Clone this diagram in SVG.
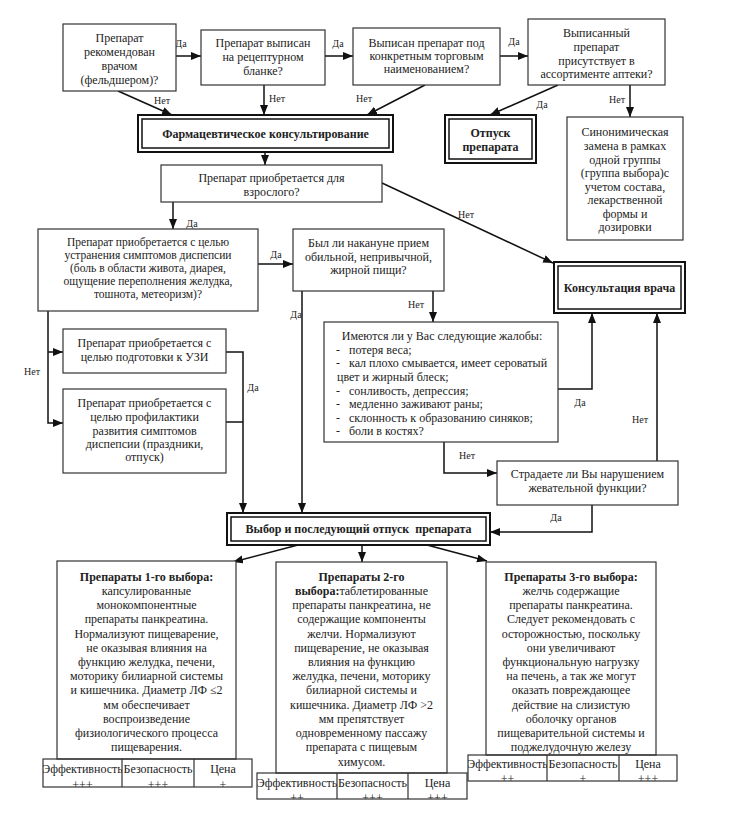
<svg xmlns="http://www.w3.org/2000/svg" width="729" height="815" viewBox="0 0 729 815">
<style>
text{font-family:"Liberation Serif","Times New Roman",serif;font-size:12px;fill:#222;text-anchor:middle}
.l{text-anchor:start}
.b{font-weight:bold}
.s{font-size:11.5px}
.lab{font-size:10px}
.box{fill:#fff;stroke:#333;stroke-width:1.2}
.dbl{fill:#fff;stroke:#111;stroke-width:2}
.dbli{fill:none;stroke:#111;stroke-width:1.5}
.c{fill:none;stroke:#111;stroke-width:1.5}
.cell{fill:none;stroke:#333;stroke-width:1.2}
</style>
<defs>
<marker id="ah" markerUnits="userSpaceOnUse" markerWidth="11" markerHeight="9" refX="10" refY="4" orient="auto">
<path d="M0,0 L10,4 L0,8 z" fill="#111"/>
</marker>
<clipPath id="t1a"><rect x="43" y="759" width="79" height="28"/></clipPath>
<clipPath id="t1b"><rect x="122" y="759" width="72" height="28"/></clipPath>
<clipPath id="t1c"><rect x="194" y="759" width="58" height="28"/></clipPath>
<clipPath id="t2a"><rect x="257" y="773" width="80" height="26"/></clipPath>
<clipPath id="t2b"><rect x="337" y="773" width="71" height="26"/></clipPath>
<clipPath id="t2c"><rect x="408" y="773" width="59" height="26"/></clipPath>
<clipPath id="t3a"><rect x="468" y="755" width="79" height="26"/></clipPath>
<clipPath id="t3b"><rect x="547" y="755" width="72" height="26"/></clipPath>
<clipPath id="t3c"><rect x="619" y="755" width="58" height="26"/></clipPath>
</defs>
<rect width="729" height="815" fill="#fff"/>

<g id="connectors">
<path class="c" d="M176,56 H201" marker-end="url(#ah)"/>
<path class="c" d="M325,56 H353" marker-end="url(#ah)"/>
<path class="c" d="M500,56 H528" marker-end="url(#ah)"/>
<path class="c" d="M118,91 L172,115" marker-end="url(#ah)"/>
<path class="c" d="M264,85 V115" marker-end="url(#ah)"/>
<path class="c" d="M425,85 L367,115" marker-end="url(#ah)"/>
<path class="c" d="M558,85 L490,115" marker-end="url(#ah)"/>
<path class="c" d="M630,85 V117" marker-end="url(#ah)"/>
<path class="c" d="M265,152 V165" marker-end="url(#ah)"/>
<path class="c" d="M382,183 L553,263" marker-end="url(#ah)"/>
<path class="c" d="M173,202 V229" marker-end="url(#ah)"/>
<path class="c" d="M258,264 H293" marker-end="url(#ah)"/>
<path class="c" d="M302,291 V513" marker-end="url(#ah)"/>
<path class="c" d="M433,291 V322" marker-end="url(#ah)"/>
<path class="c" d="M558,389 H592 V313" marker-end="url(#ah)"/>
<path class="c" d="M444,442 V473 H497" marker-end="url(#ah)"/>
<path class="c" d="M657,461 V313" marker-end="url(#ah)"/>
<path class="c" d="M592,505 V532 H490" marker-end="url(#ah)"/>
<path class="c" d="M48,311 V423 H63" marker-end="url(#ah)"/>
<path class="c" d="M48,352 H63" marker-end="url(#ah)"/>
<path class="c" d="M226,352 H243 V513" marker-end="url(#ah)"/>
<path class="c" d="M226,422 H243"/>
<path class="c" d="M298,545 L233,562" marker-end="url(#ah)"/>
<path class="c" d="M362,545 V562" marker-end="url(#ah)"/>
<path class="c" d="M427,545 L487,561" marker-end="url(#ah)"/>
<text class="lab" x="181" y="47">Да</text>
<text class="lab" x="338" y="47">Да</text>
<text class="lab" x="514" y="45">Да</text>
<text class="lab" x="162" y="104">Нет</text>
<text class="lab" x="277" y="102">Нет</text>
<text class="lab" x="364" y="102">Нет</text>
<text class="lab" x="542" y="108">Да</text>
<text class="lab" x="617" y="103">Нет</text>
<text class="lab" x="466" y="218">Нет</text>
<text class="lab" x="192" y="227">Да</text>
<text class="lab" x="276" y="258">Да</text>
<text class="lab" x="296" y="318">Да</text>
<text class="lab" x="416" y="308">Нет</text>
<text class="lab" x="580" y="406">Да</text>
<text class="lab" x="640" y="423">Нет</text>
<text class="lab" x="467" y="459">Нет</text>
<text class="lab" x="556" y="521">Да</text>
<text class="lab" x="32" y="375">Нет</text>
<text class="lab" x="253" y="391">Да</text>
</g>

<g id="n-recommended">
<rect class="box" x="63" y="24" width="113" height="67"/>
<text x="119.5" y="42">Препарат</text>
<text x="119.5" y="56">рекомендован</text>
<text x="119.5" y="70">врачом</text>
<text x="119.5" y="84">(фельдшером)?</text>
</g>
<g id="n-prescribed">
<rect class="box" x="201" y="30" width="124" height="55"/>
<text x="263" y="47">Препарат выписан</text>
<text x="263" y="61">на рецептурном</text>
<text x="263" y="75">бланке?</text>
</g>
<g id="n-trade">
<rect class="box" x="353" y="28" width="147" height="57"/>
<text x="426.5" y="47">Выписан препарат под</text>
<text x="426.5" y="60">конкретным торговым</text>
<text x="426.5" y="73">наименованием?</text>
</g>
<g id="n-assortment">
<rect class="box" x="528" y="19" width="137" height="66"/>
<text x="596.5" y="37">Выписанный</text>
<text x="596.5" y="51">препарат</text>
<text x="596.5" y="65">присутствует в</text>
<text x="596.5" y="78">ассортименте аптеки?</text>
</g>
<g id="n-pharm">
<rect class="dbl" x="138" y="115" width="255" height="37"/>
<rect class="dbli" x="142" y="119" width="247" height="29"/>
<text class="b" x="265.5" y="138">Фармацевтическое консультирование</text>
</g>
<g id="n-dispense">
<rect class="dbl" x="445" y="115" width="91" height="48"/>
<rect class="dbli" x="449" y="119" width="83" height="40"/>
<text class="b" x="490.5" y="137">Отпуск</text>
<text class="b" x="490.5" y="151">препарата</text>
</g>
<g id="n-synonym">
<rect class="box" x="567" y="117" width="116" height="123"/>
<text x="625" y="136">Синонимическая</text>
<text x="625" y="150">замена в рамках</text>
<text x="625" y="164">одной группы</text>
<text x="625" y="177">(группа выбора)с</text>
<text x="625" y="191">учетом состава,</text>
<text x="625" y="204">лекарственной</text>
<text x="625" y="218">формы и</text>
<text x="625" y="231">дозировки</text>
</g>
<g id="n-adult">
<rect class="box" x="161" y="165" width="221" height="37"/>
<text x="271.5" y="182">Препарат приобретается для</text>
<text x="271.5" y="196">взрослого?</text>
</g>
<g id="n-dyspepsia">
<rect class="box" x="38" y="229" width="220" height="82"/>
<text class="s" x="148" y="246">Препарат приобретается с целью</text>
<text class="s" x="148" y="259">устранения симптомов диспепсии</text>
<text class="s" x="148" y="272">(боль в области живота, диарея,</text>
<text class="s" x="148" y="285">ощущение переполнения желудка,</text>
<text class="s" x="148" y="298">тошнота, метеоризм)?</text>
</g>
<g id="n-food">
<rect class="box" x="293" y="229" width="151" height="62"/>
<text x="368.5" y="247">Был ли накануне прием</text>
<text x="368.5" y="261">обильной, непривычной,</text>
<text x="368.5" y="274">жирной пищи?</text>
</g>
<g id="n-complaints">
<rect class="box" x="324" y="322" width="234" height="120"/>
<text x="442" y="340">Имеются ли у Вас следующие жалобы:</text>
<text class="l" x="336" y="354">-</text><text class="l" x="349" y="354">потеря веса;</text>
<text class="l" x="336" y="367">-</text><text class="l" x="349" y="367">кал плохо смывается, имеет сероватый</text>
<text class="l" x="337" y="381">цвет и жирный блеск;</text>
<text class="l" x="336" y="395">-</text><text class="l" x="349" y="395">сонливость, депрессия;</text>
<text class="l" x="336" y="408">-</text><text class="l" x="349" y="408">медленно заживают раны;</text>
<text class="l" x="336" y="422">-</text><text class="l" x="349" y="422">склонность к образованию синяков;</text>
<text class="l" x="336" y="435">-</text><text class="l" x="349" y="435">боли в костях?</text>
</g>
<g id="n-doctor">
<rect class="dbl" x="554" y="262" width="131" height="51"/>
<rect class="dbli" x="558" y="266" width="123" height="43"/>
<text class="b" x="619.5" y="292">Консультация врача</text>
</g>
<g id="n-chewing">
<rect class="box" x="497" y="461" width="181" height="44"/>
<text x="587.5" y="478">Страдаете ли Вы нарушением</text>
<text x="587.5" y="492">жевательной функции?</text>
</g>
<g id="n-uzi">
<rect class="box" x="63" y="329" width="163" height="44"/>
<text x="144.5" y="347">Препарат приобретается с</text>
<text x="144.5" y="361">целью подготовки к УЗИ</text>
</g>
<g id="n-prevention">
<rect class="box" x="63" y="389" width="163" height="84"/>
<text x="144.5" y="407">Препарат приобретается с</text>
<text x="144.5" y="421">целью профилактики</text>
<text x="144.5" y="435">развития симптомов</text>
<text x="144.5" y="448">диспепсии (праздники,</text>
<text x="144.5" y="461">отпуск)</text>
</g>
<g id="n-choice">
<rect class="dbl" x="227" y="513" width="263" height="32"/>
<rect class="dbli" x="231" y="517" width="255" height="24"/>
<text class="b" x="358.5" y="533" xml:space="preserve">Выбор и последующий отпуск  препарата</text>
</g>
<g id="n-first">
<rect class="box" x="57" y="561" width="179" height="198"/>
<text class="b" x="146.5" y="581">Препараты 1-го выбора:</text>
<text x="146.5" y="595">капсулированные</text>
<text x="146.5" y="609">монокомпонентные</text>
<text x="146.5" y="623">препараты панкреатина.</text>
<text x="146.5" y="638">Нормализуют пищеварение,</text>
<text x="146.5" y="652">не оказывая влияния на</text>
<text x="146.5" y="666">функцию желудка, печени,</text>
<text x="146.5" y="680">моторику билиарной системы</text>
<text x="146.5" y="694">и кишечника. Диаметр ЛФ ≤2</text>
<text x="146.5" y="709">мм обеспечивает</text>
<text x="146.5" y="723">воспроизведение</text>
<text x="146.5" y="737">физиологического процесса</text>
<text x="146.5" y="751">пищеварения.</text>
<rect class="cell" x="43" y="759" width="209" height="28"/>
<path class="cell" d="M122,759 V787 M194,759 V787"/>
<text x="82.5" y="773" clip-path="url(#t1a)">Эффективность</text>
<text x="158" y="773" clip-path="url(#t1b)">Безопасность</text>
<text x="223" y="773" clip-path="url(#t1c)">Цена</text>
<text x="82.5" y="789" clip-path="url(#t1a)">+++</text>
<text x="158" y="789" clip-path="url(#t1b)">+++</text>
<text x="223" y="789" clip-path="url(#t1c)">+</text>
</g>
<g id="n-second">
<rect class="box" x="276" y="562" width="171" height="211"/>
<text class="b" x="361.5" y="581">Препараты 2-го</text>
<text x="361.5" y="595"><tspan class="b">выбора:</tspan>таблетированные</text>
<text x="361.5" y="609">препараты панкреатина, не</text>
<text x="361.5" y="623">содержащие компоненты</text>
<text x="361.5" y="638">желчи. Нормализуют</text>
<text x="361.5" y="652">пищеварение, не оказывая</text>
<text x="361.5" y="666">влияния на функцию</text>
<text x="361.5" y="680">желудка, печени, моторику</text>
<text x="361.5" y="694">билиарной системы и</text>
<text x="361.5" y="709">кишечника. Диаметр ЛФ &gt;2</text>
<text x="361.5" y="723">мм препятствует</text>
<text x="361.5" y="737">одновременному пассажу</text>
<text x="361.5" y="751">препарата с пищевым</text>
<text x="361.5" y="766">химусом.</text>
<rect class="cell" x="257" y="773" width="210" height="26"/>
<path class="cell" d="M337,773 V799 M408,773 V799"/>
<text x="297" y="787" clip-path="url(#t2a)">Эффективность</text>
<text x="372.5" y="787" clip-path="url(#t2b)">Безопасность</text>
<text x="437.5" y="787" clip-path="url(#t2c)">Цена</text>
<text x="297" y="802" clip-path="url(#t2a)">++</text>
<text x="372.5" y="802" clip-path="url(#t2b)">+++</text>
<text x="437.5" y="802" clip-path="url(#t2c)">+++</text>
</g>
<g id="n-third">
<rect class="box" x="486" y="562" width="170" height="193"/>
<text class="b" x="571" y="581">Препараты 3-го выбора:</text>
<text x="571" y="595">желчь содержащие</text>
<text x="571" y="609">препараты панкреатина.</text>
<text x="571" y="623">Следует рекомендовать с</text>
<text x="571" y="638">осторожностью, поскольку</text>
<text x="571" y="652">они увеличивают</text>
<text x="571" y="666">функциональную нагрузку</text>
<text x="571" y="680">на печень, а так же могут</text>
<text x="571" y="694">оказать повреждающее</text>
<text x="571" y="709">действие на слизистую</text>
<text x="571" y="723">оболочку органов</text>
<text x="571" y="737">пищеварительной системы и</text>
<text x="571" y="751">поджелудочную железу</text>
<rect class="cell" x="468" y="755" width="209" height="26"/>
<path class="cell" d="M547,755 V781 M619,755 V781"/>
<text x="507.5" y="768" clip-path="url(#t3a)">Эффективность</text>
<text x="583" y="768" clip-path="url(#t3b)">Безопасность</text>
<text x="648" y="768" clip-path="url(#t3c)">Цена</text>
<text x="507.5" y="783" clip-path="url(#t3a)">++</text>
<text x="583" y="783" clip-path="url(#t3b)">+</text>
<text x="648" y="783" clip-path="url(#t3c)">+++</text>
</g>
</svg>
